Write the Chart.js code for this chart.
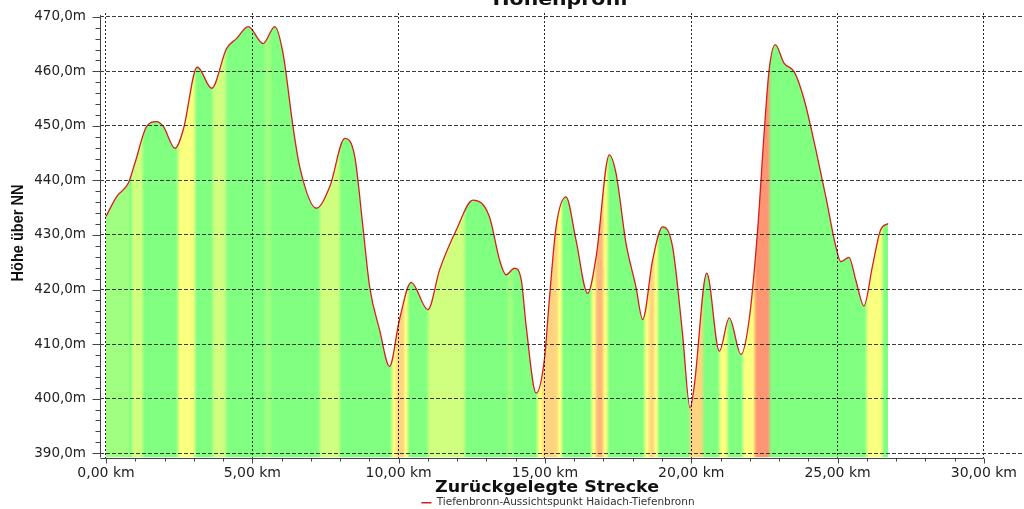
<!DOCTYPE html>
<html>
<head>
<meta charset="utf-8">
<script src="https://cdn.jsdelivr.net/npm/chart.js@4.4.1/dist/chart.umd.min.js"></script>
<style>
html,body{margin:0;padding:0;background:#fff;overflow:hidden}
canvas{display:block}
</style>
</head>
<body>
<canvas id="c" width="1024" height="509"></canvas>
<script>
// ---------- data ----------
const titel = 'Höhenprofil';
const xTitel = 'Zurückgelegte Strecke';
const yTitel = 'Höhe über NN';
const serienName = 'Tiefenbronn-Aussichtspunkt Haidach-Tiefenbronn';

const distanzKm = [0.00,0.36,0.76,0.99,1.39,1.73,1.96,2.36,2.64,3.12,3.61,4.12,4.46,4.86,5.37,5.77,6.05,6.39,6.62,7.19,
  7.65,8.16,8.50,8.78,9.01,9.35,9.69,10.03,10.43,11.00,11.40,11.97,12.54,13.10,13.45,13.67,13.96,14.19,14.36,14.70,
  14.98,15.15,15.38,15.72,16.06,16.46,16.75,17.20,17.43,17.77,18.11,18.34,18.68,19.02,19.36,19.70,19.96,20.10,20.53,20.96,
  21.30,21.70,21.98,22.26,22.49,22.66,22.87,23.17,23.52,23.86,24.26,24.60,24.94,25.11,25.39,25.62,25.90,26.19,26.47,26.73];
const hoeheM = [433.4,437.0,439.5,443.2,449.9,450.8,449.9,445.9,449.3,460.8,456.9,464.2,466.0,468.2,465.1,468.2,463.3,449.9,442.5,434.9,
  438.9,447.7,444.4,431.5,420.5,412.6,405.9,414.5,421.3,416.3,423.6,430.9,436.4,433.4,425.4,422.7,423.9,421.8,413.2,401.0,
  407.1,418.1,431.5,437.0,429.1,419.3,426.0,444.7,441.3,428.5,420.5,414.5,425.4,431.5,427.9,412.0,398.3,402.2,423.0,408.7,
  414.8,408.1,414.5,430.3,448.6,460.2,464.9,461.5,459.9,454.8,445.6,437.0,427.9,425.1,425.9,421.8,417.0,424.2,430.9,432.1];

// slope classes of the coloured fill (0 = flat/downhill ... 6 = steepest climb)
const steigungVonKm = [0.00,0.85,2.46,3.65,5.43,7.31,9.77,9.92,10.20,11.00,13.73,14.75,14.90,15.45,16.60,16.73,17.00,18.41,18.55,18.75,19.95,20.96,21.76,22.17,25.99];
const steigungBisKm = [0.82,1.26,3.04,4.10,5.64,7.99,9.92,10.20,10.31,12.26,13.90,14.90,15.45,15.57,16.73,17.00,17.14,18.55,18.75,18.85,20.40,21.24,22.17,22.68,26.54];
const steigungKlasse = [1,2,3,2,1,2,3,4,3,2,1,3,4,3,3,5,3,3,4,3,4,3,3,6,3];

const xBeschriftungKm = [0,5,10,15,20,25,30];
const yBeschriftungM = [390,400,410,420,430,440,450,460,470];
const xHilfsschrittKm = 1;
const yHilfsschrittM = 2;

// ---------- styling ----------
const klassenFarben = ['rgb(128,255,128)','rgb(160,255,128)','rgb(208,255,128)','rgb(250,255,128)','rgb(255,212,128)','rgb(255,184,124)','rgb(255,150,115)'];

Chart.defaults.font.family = '"DejaVu Sans", Verdana, sans-serif';
Chart.defaults.color = '#222';

const fmt = (v, d) => v.toFixed(d).replace('.', ',');

function fillGradient(context) {
  const chart = context.chart;
  const xs = chart.scales.x;
  if (!chart.chartArea || !xs) return klassenFarben[0];
  const a0 = distanzKm[0], a1 = distanzKm[distanzKm.length - 1];
  const x0 = xs.getPixelForValue(a0), x1 = xs.getPixelForValue(a1);
  const span = x1 - x0;
  const segs = [];
  let pos = a0;
  for (let i = 0; i < steigungVonKm.length; i++) {
    if (steigungVonKm[i] > pos) segs.push([pos, steigungVonKm[i], 0]);
    segs.push([steigungVonKm[i], steigungBisKm[i], steigungKlasse[i]]);
    pos = steigungBisKm[i];
  }
  if (pos < a1) segs.push([pos, a1, 0]);
  const g = chart.ctx.createLinearGradient(x0, 0, x1, 0);
  let last = 0;
  const add = (px, col) => {
    let f = (px - x0) / span;
    f = Math.min(1, Math.max(last, f));
    last = f;
    g.addColorStop(f, col);
  };
  segs.forEach(([a, b, k]) => {
    const pa = xs.getPixelForValue(a), pb = xs.getPixelForValue(b);
    const inset = Math.min(2, (pb - pa) / 3);
    add(pa + inset, klassenFarben[k]);
    add(pb - inset, klassenFarben[k]);
  });
  return g;
}

function fitText(ctx, text, x, y, targetW) {
  const w = ctx.measureText(text).width;
  ctx.save();
  ctx.translate(x, y);
  ctx.scale(targetW / w, 1);
  ctx.fillText(text, 0, 0);
  ctx.restore();
}

const deko = {
  id: 'deko',
  afterDraw(chart) {
    const ctx = chart.ctx, xs = chart.scales.x, ys = chart.scales.y, area = chart.chartArea;
    ctx.save();
    ctx.strokeStyle = '#444';
    ctx.lineWidth = 1;
    // y axis line + tick marks
    const lx = Math.round(area.left) + 0.5;
    ctx.beginPath(); ctx.moveTo(lx, area.top + 2); ctx.lineTo(lx, area.bottom); ctx.stroke();
    ys.ticks.forEach(t => {
      const py = Math.round(ys.getPixelForValue(t.value)) + 0.5;
      const len = yBeschriftungM.includes(t.value) ? 8 : 5;
      ctx.beginPath(); ctx.moveTo(lx - len, py); ctx.lineTo(lx, py); ctx.stroke();
    });
    // x axis line + tick marks
    const xEnd = xs.getPixelForValue(xBeschriftungKm[xBeschriftungKm.length - 1]);
    const by = Math.round(area.bottom) + 0.5;
    ctx.beginPath(); ctx.moveTo(lx, by); ctx.lineTo(xEnd, by); ctx.stroke();
    xs.ticks.forEach(t => {
      const px = Math.round(xs.getPixelForValue(t.value)) + 0.5;
      const len = xBeschriftungKm.includes(t.value) ? 5 : 3;
      ctx.beginPath(); ctx.moveTo(px, by); ctx.lineTo(px, by + len); ctx.stroke();
    });
    // chart title (partly cut at top)
    ctx.fillStyle = '#111';
    ctx.textAlign = 'center';
    ctx.textBaseline = 'alphabetic';
    ctx.font = 'bold 18px "DejaVu Sans", Verdana, sans-serif';
    fitText(ctx, titel, 560, 4.5, 135);
    // x axis title
    ctx.font = 'bold 16px "DejaVu Sans", Verdana, sans-serif';
    fitText(ctx, xTitel, 547, 492, 224);
    // y axis title
    ctx.save();
    ctx.translate(18, 233);
    ctx.rotate(-Math.PI / 2);
    ctx.font = 'bold 17px "Liberation Sans Narrow", "Liberation Sans", Arial, sans-serif';
    ctx.textBaseline = 'middle';
    fitText(ctx, yTitel, 0, 0, 97);
    ctx.restore();
    ctx.restore();
  }
};

new Chart(document.getElementById('c'), {
  type: 'line',
  data: {
    datasets: [{
      label: serienName,
      data: distanzKm.map((d, i) => ({x: d, y: hoeheM[i]})),
      borderColor: 'rgb(215,30,30)',
      borderWidth: 1.3,
      backgroundColor: fillGradient,
      fill: 'start',
      pointRadius: 0,
      pointStyle: 'line',
      cubicInterpolationMode: 'monotone'
    }]
  },
  options: {
    responsive: false,
    animation: false,
    devicePixelRatio: 1,
    layout: {padding: {left: 0, top: 13, right: -92, bottom: -9}},
    plugins: {
      title: {display: false},
      tooltip: {enabled: false},
      legend: {
        display: true,
        position: 'bottom',
        labels: {
          usePointStyle: true,
          pointStyle: 'line',
          pointStyleWidth: 10,
          boxHeight: 10,
          padding: 4,
          color: '#333',
          font: {size: 10.5}
        }
      }
    },
    scales: {
      x: {
        type: 'linear',
        min: -0.205,
        max: 31.35,
        afterBuildTicks: s => {
          const t = [];
          for (let v = xBeschriftungKm[0]; v <= xBeschriftungKm[xBeschriftungKm.length - 1]; v += xHilfsschrittKm) t.push({value: v});
          s.ticks = t;
        },
        afterFit: s => { s.height = 36; },
        ticks: {
          autoSkip: false, maxRotation: 0, padding: 7,
          font: {size: 14}, color: '#222',
          callback: v => xBeschriftungKm.includes(v) ? fmt(v, 2) + ' km' : ''
        },
        grid: {
          drawTicks: false, z: 1, lineWidth: 1,
          borderDash: [2, 2],
          color: c => (c.tick && xBeschriftungKm.includes(c.tick.value)) ? 'rgba(0,0,0,0.85)' : 'rgba(0,0,0,0)'
        },
        border: {display: false, z: 1, dash: [2, 2]}
      },
      y: {
        type: 'linear',
        min: 389.2,
        max: 470.7,
        afterBuildTicks: s => {
          const t = [];
          for (let v = yBeschriftungM[0]; v <= yBeschriftungM[yBeschriftungM.length - 1]; v += yHilfsschrittM) t.push({value: v});
          s.ticks = t;
        },
        afterFit: s => { s.width = 100; },
        ticks: {
          autoSkip: false, padding: 2,
          font: {size: 13.5}, color: '#222',
          callback: v => yBeschriftungM.includes(v) ? fmt(v, 1) + 'm' : ''
        },
        grid: {
          drawTicks: true, tickLength: 12, tickColor: 'rgba(0,0,0,0)', z: 1, lineWidth: 1,
          borderDash: [4, 2],
          color: c => (c.tick && yBeschriftungM.includes(c.tick.value)) ? 'rgba(40,40,40,0.9)' : 'rgba(0,0,0,0)'
        },
        border: {display: false, z: 1, dash: [4, 2]}
      }
    }
  },
  plugins: [deko]
});
</script>
</body>
</html>
